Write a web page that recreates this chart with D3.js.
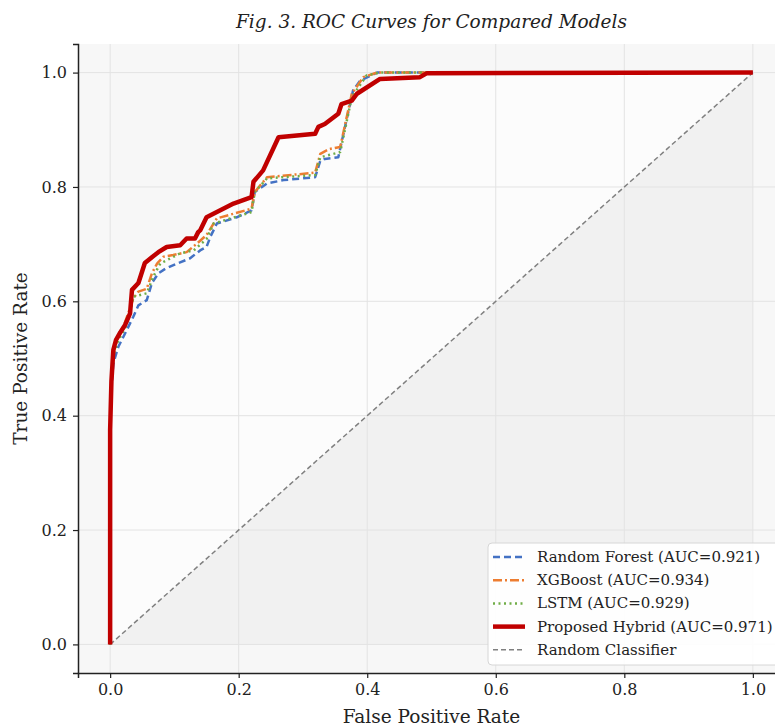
<!DOCTYPE html>
<html>
<head>
<meta charset="utf-8">
<script src="https://cdn.jsdelivr.net/npm/d3@7"></script>
<style>
  body { margin: 0; background: #fff; }
  svg { display: block; font-family: "DejaVu Serif", serif; }
</style>
</head>
<body>
<svg></svg>
<script>
"use strict";

// points: [fpr, tpr]
const rfPoints = [
  [0, 0], [0, 0.36], [0.002, 0.45], [0.005, 0.49], [0.008, 0.503], [0.013, 0.521],
  [0.026, 0.55], [0.036, 0.573], [0.044, 0.593], [0.057, 0.602], [0.065, 0.632],
  [0.075, 0.649], [0.086, 0.657], [0.104, 0.666], [0.124, 0.675], [0.14, 0.689],
  [0.15, 0.695], [0.156, 0.713], [0.166, 0.736], [0.197, 0.747], [0.22, 0.759],
  [0.225, 0.791], [0.244, 0.806], [0.27, 0.812], [0.319, 0.817], [0.327, 0.846],
  [0.334, 0.849], [0.355, 0.852], [0.378, 0.969], [0.389, 0.986], [0.415, 1.0], [1, 1]
];
const xgbPoints = [
  [0, 0], [0, 0.37], [0.002, 0.46], [0.005, 0.51], [0.012, 0.535], [0.022, 0.56],
  [0.03, 0.585], [0.036, 0.605], [0.044, 0.617], [0.057, 0.622], [0.065, 0.649],
  [0.073, 0.666], [0.083, 0.678], [0.098, 0.681], [0.119, 0.686], [0.135, 0.701],
  [0.15, 0.716], [0.166, 0.745], [0.22, 0.762], [0.225, 0.791], [0.244, 0.817],
  [0.319, 0.825], [0.327, 0.858], [0.34, 0.866], [0.358, 0.87], [0.376, 0.963],
  [0.394, 0.992], [0.415, 1.0], [1, 1]
];
const lstmPoints = [
  [0, 0], [0, 0.37], [0.002, 0.46], [0.005, 0.505], [0.012, 0.53], [0.024, 0.555],
  [0.031, 0.58], [0.036, 0.608], [0.057, 0.614], [0.067, 0.643], [0.078, 0.666],
  [0.109, 0.684], [0.13, 0.689], [0.15, 0.709], [0.161, 0.736], [0.22, 0.756],
  [0.225, 0.791], [0.244, 0.815], [0.319, 0.821], [0.327, 0.852], [0.358, 0.861],
  [0.376, 0.957], [0.399, 0.995], [0.42, 1.0], [1, 1]
];
const hybridPoints = [
  [0, 0], [0, 0.375], [0.002, 0.46], [0.005, 0.515], [0.009, 0.532], [0.016, 0.546],
  [0.023, 0.558], [0.031, 0.579], [0.034, 0.62], [0.044, 0.632], [0.054, 0.667],
  [0.065, 0.677], [0.075, 0.686], [0.088, 0.695], [0.109, 0.698], [0.119, 0.71],
  [0.132, 0.71], [0.137, 0.721], [0.14, 0.724], [0.15, 0.747], [0.192, 0.771],
  [0.22, 0.782], [0.223, 0.809], [0.238, 0.829], [0.262, 0.887], [0.319, 0.893],
  [0.324, 0.905], [0.334, 0.91], [0.355, 0.928], [0.36, 0.945], [0.376, 0.951],
  [0.384, 0.963], [0.42, 0.989], [0.482, 0.992], [0.493, 0.999], [1, 1]
];
const diagonalPoints = [[0, 0], [1, 1]];

const seriesNames = [
  "Random Forest (AUC=0.921)",
  "XGBoost (AUC=0.934)",
  "LSTM (AUC=0.929)",
  "Proposed Hybrid (AUC=0.971)",
  "Random Classifier"
];
const tickValues = [0, 0.2, 0.4, 0.6, 0.8, 1.0];

const width = 775;
const height = 728;
const margin = { top: 44, right: -10, bottom: 55, left: 78 };

const svg = d3.select("svg").attr("width", width).attr("height", height);

const xScale = d3.scaleLinear().domain([-0.05, 1.05]).range([margin.left, width - margin.right]);
const yScale = d3.scaleLinear().domain([-0.05, 1.05]).range([height - margin.bottom, margin.top]);

const plotW = width - margin.right - margin.left;
const plotH = height - margin.bottom - margin.top;

const styles = [
  { color: "#4472c4", widthPx: 2.5, dash: "7,4" },
  { color: "#ed7d31", widthPx: 2.5, dash: "9,3,2,3" },
  { color: "#70ad47", widthPx: 2.5, dash: "2,3.5" },
  { color: "#c00000", widthPx: 4.5, dash: null },
  { color: "#808080", widthPx: 1.5, dash: "5,3" }
];

svg.append("clipPath").attr("id", "plot-clip")
  .append("rect")
  .attr("x", margin.left).attr("y", margin.top)
  .attr("width", plotW).attr("height", plotH);

const plot = svg.append("g").attr("clip-path", "url(#plot-clip)");

plot.append("rect")
  .attr("x", margin.left).attr("y", margin.top)
  .attr("width", plotW).attr("height", plotH)
  .attr("fill", "#f7f7f7");

// shaded areas: under the diagonal, and between hybrid curve and diagonal
const lineGen = d3.line().x((d) => xScale(d[0])).y((d) => yScale(d[1]));

plot.append("path")
  .attr("d", lineGen([[0, 0], [1, 0], [1, 1]]) + "Z")
  .attr("fill", "#f1f1f1");

plot.append("path")
  .attr("d", lineGen(hybridPoints.concat([[0, 0]])) + "Z")
  .attr("fill", "#fcfcfc");

// grid
plot.selectAll(".gx").data(tickValues).enter().append("line")
  .attr("x1", (d) => xScale(d)).attr("x2", (d) => xScale(d))
  .attr("y1", margin.top).attr("y2", margin.top + plotH)
  .attr("stroke", "#e3e3e3").attr("stroke-width", 1);
plot.selectAll(".gy").data(tickValues).enter().append("line")
  .attr("y1", (d) => yScale(d)).attr("y2", (d) => yScale(d))
  .attr("x1", margin.left).attr("x2", margin.left + plotW)
  .attr("stroke", "#e3e3e3").attr("stroke-width", 1);

const allSeries = [rfPoints, xgbPoints, lstmPoints, hybridPoints, diagonalPoints];
const drawOrder = [4, 0, 1, 2, 3];

drawOrder.forEach((i) => {
  plot.append("path")
    .attr("d", lineGen(allSeries[i]))
    .attr("fill", "none")
    .attr("stroke", styles[i].color)
    .attr("stroke-width", styles[i].widthPx)
    .attr("stroke-dasharray", styles[i].dash)
    .attr("stroke-linejoin", "round");
});

// axes
const xAxis = d3.axisBottom(xScale).tickValues(tickValues).tickFormat(d3.format(".1f")).tickSizeOuter(0).tickSize(5).tickPadding(6);
const yAxis = d3.axisLeft(yScale).tickValues(tickValues).tickFormat(d3.format(".1f")).tickSizeOuter(0).tickSize(5).tickPadding(6);

const gx = svg.append("g")
  .attr("transform", `translate(0,${height - margin.bottom})`)
  .call(xAxis);
const gy = svg.append("g")
  .attr("transform", `translate(${margin.left},0)`)
  .call(yAxis);

[gx, gy].forEach((g) => {
  g.select(".domain").attr("stroke", "#222").attr("stroke-width", 1.5);
  g.selectAll(".tick line").attr("stroke", "#222").attr("stroke-width", 1.2);
  g.selectAll(".tick text")
    .attr("fill", "#222")
    .style("font-family", "DejaVu Serif")
    .style("font-size", "16px");
});

svg.append("text")
  .attr("x", margin.left + plotW / 2).attr("y", 723)
  .attr("text-anchor", "middle")
  .style("font-size", "18.5px").attr("fill", "#222")
  .text("False Positive Rate");

svg.append("text")
  .attr("transform", `translate(27,${yScale(0.5)}) rotate(-90)`)
  .attr("text-anchor", "middle")
  .style("font-size", "18.5px").attr("fill", "#222")
  .text("True Positive Rate");

svg.append("text")
  .attr("x", margin.left + plotW / 2).attr("y", 28)
  .attr("text-anchor", "middle")
  .style("font-size", "18.5px").style("font-style", "italic").attr("fill", "#222")
  .text("Fig. 3. ROC Curves for Compared Models");

// legend
const legend = svg.append("g").attr("transform", "translate(488,543)");
legend.append("rect")
  .attr("width", 300).attr("height", 122)
  .attr("rx", 4)
  .attr("fill", "#ffffff").attr("fill-opacity", 0.9)
  .attr("stroke", "#d6d6d6");

seriesNames.forEach((name, i) => {
  const yy = 14 + i * 23.2;
  legend.append("line")
    .attr("x1", 5).attr("x2", 37).attr("y1", yy).attr("y2", yy)
    .attr("stroke", styles[i].color)
    .attr("stroke-width", styles[i].widthPx)
    .attr("stroke-dasharray", styles[i].dash);
  legend.append("text")
    .attr("x", 49).attr("y", yy + 5)
    .style("font-size", "15px").attr("fill", "#222")
    .text(name);
});
</script>
</body>
</html>
